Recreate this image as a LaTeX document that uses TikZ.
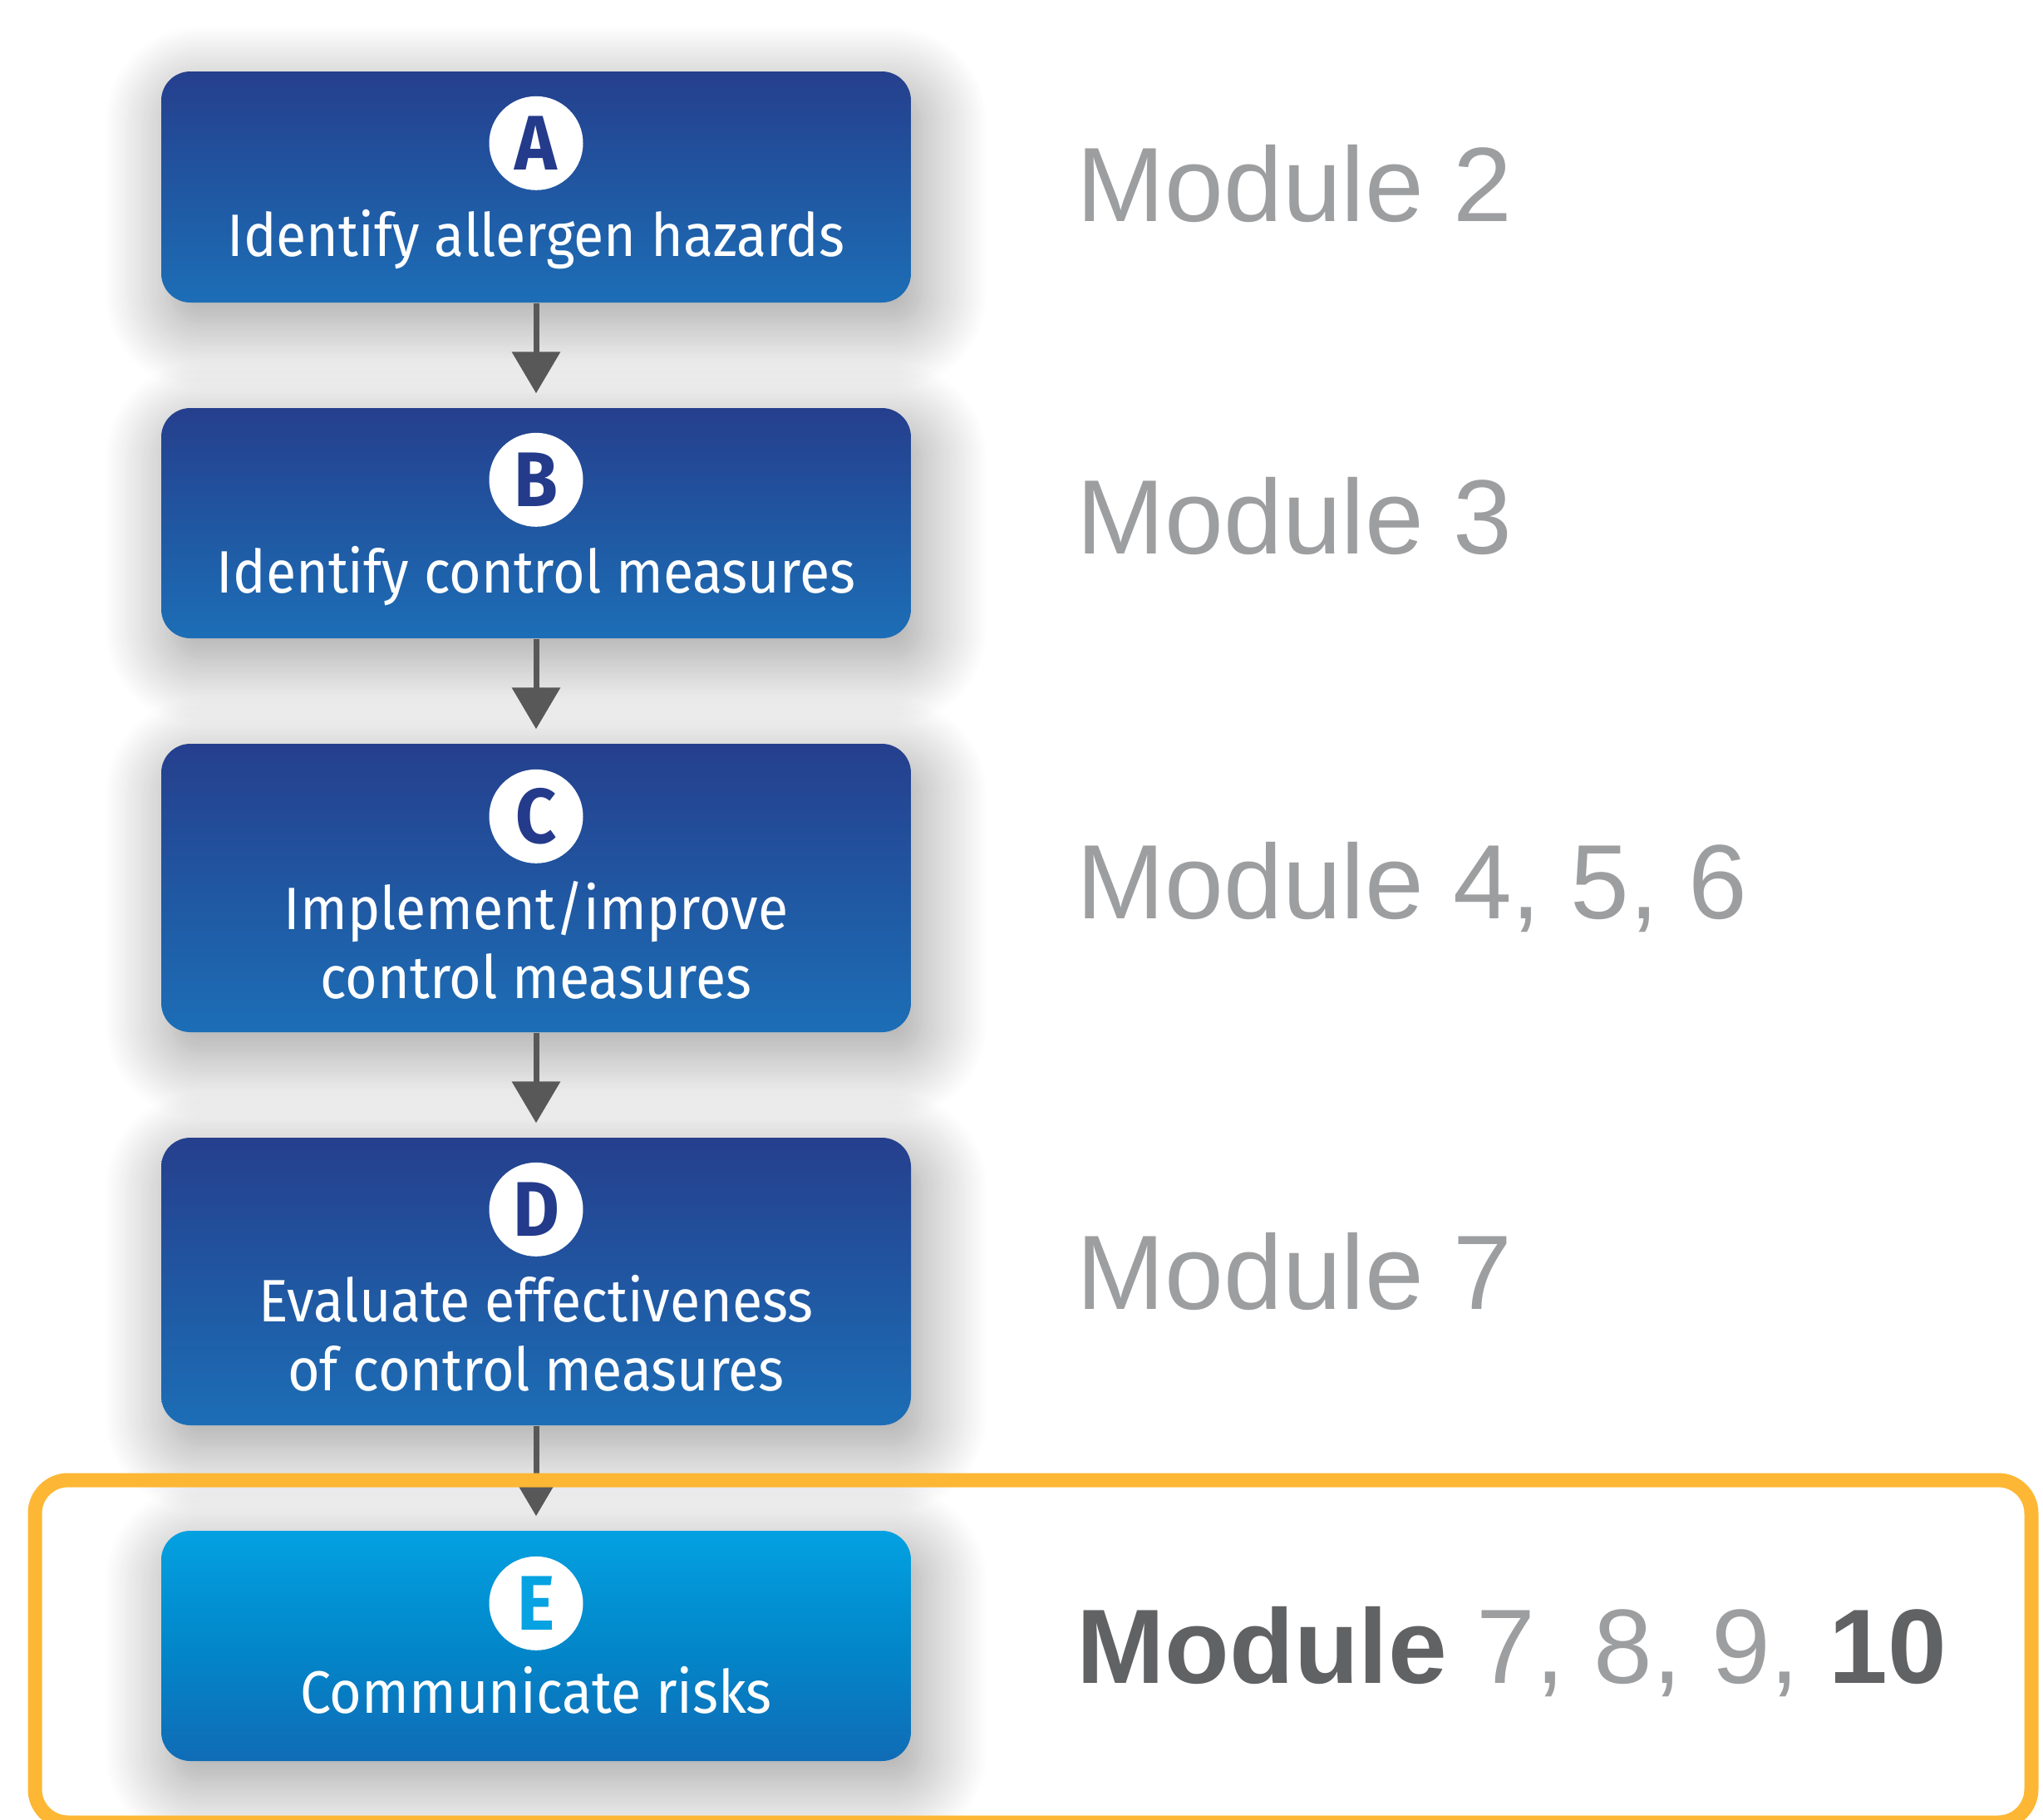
\documentclass[tikz,border=0pt]{standalone}
\usepackage{fontspec}
\usepackage{tikz}
\usetikzlibrary{positioning,arrows.meta,calc,shadows.blur}
\newfontfamily\boxfont[FakeStretch=0.92]{Fira Sans}
\newfontfamily\modfont{Liberation Sans}
\definecolor{navytop}{RGB}{37,63,141}
\definecolor{bluebot}{RGB}{28,110,182}
\definecolor{cyantop}{RGB}{3,161,225}
\definecolor{cyanmid}{RGB}{2,135,202}
\definecolor{cyanbot}{RGB}{16,108,182}
\definecolor{badgenavy}{RGB}{36,58,139}
\definecolor{badgecyan}{RGB}{6,162,225}
\definecolor{flowgray}{RGB}{88,88,88}
\definecolor{modgray}{RGB}{157,158,160}
\definecolor{moddark}{RGB}{97,98,100}
\definecolor{framegold}{RGB}{253,183,52}

\begin{document}
\begin{tikzpicture}[
  stepbox/.style={rectangle, rounded corners=0.35cm, minimum width=9.02cm,
    top color=navytop, bottom color=bluebot,
    blur shadow={shadow xshift=0.12cm, shadow yshift=-0.25cm, shadow blur radius=0.8cm,
      shadow blur steps=30, shadow opacity=40}},
  badge/.style={circle, fill=white, minimum size=1.13cm, inner sep=0pt, text=badgenavy,
    font=\boxfont\fontsize{26.5}{28}\selectfont\bfseries},
  steptext/.style={anchor=base, text=white, align=center, inner sep=0pt,
    font=\boxfont\fontsize{20.5}{23.6}\selectfont},
  modtext/.style={anchor=base west, inner sep=0pt, text=modgray,
    font=\modfont\fontsize{36.2}{40}\selectfont},
  flow/.style={draw=flowgray, line width=0.07cm, -{Triangle[length=0.5cm,width=0.57cm]}, shorten >=0.17cm}
]
  \useasboundingbox (0,0) rectangle (24.58,-21.90);

  % the five steps
  \node[stepbox, minimum height=2.78cm] (A) at (6.45,-2.25) {};
  \node[stepbox, minimum height=2.77cm] (B) at (6.45,-6.295) {};
  \node[stepbox, minimum height=3.47cm] (C) at (6.45,-10.685) {};
  \node[stepbox, minimum height=3.46cm] (D) at (6.45,-15.42) {};
  \node[stepbox, minimum height=2.77cm, top color=cyantop, bottom color=cyanbot, middle color=cyanmid] (E) at (6.45,-19.805) {};

  \node[badge] (bA) at ([yshift=-0.87cm]A.north) {A};
  \node[badge] (bB) at ([yshift=-0.87cm]B.north) {B};
  \node[badge] (bC) at ([yshift=-0.88cm]C.north) {C};
  \node[badge] (bD) at ([yshift=-0.87cm]D.north) {D};
  \node[badge, text=badgecyan] (bE) at ([yshift=-0.88cm]E.north) {E};

  \node[steptext] (tA) at ([yshift=-2.23cm]A.north) {Identify allergen hazards};
  \node[steptext] (tB) at ([yshift=-2.23cm]B.north) {Identify control measures};
  \node[steptext] (tC) at ([yshift=-3.07cm]C.north) {Implement/improve\\control measures};
  \node[steptext] (tD) at ([yshift=-3.05cm]D.north) {Evaluate effectiveness\\of control measures};
  \node[steptext] (tE) at ([yshift=-2.20cm]E.north) {Communicate risks};

  \draw[flow] (A) -- (B);
  \draw[flow] (B) -- (C);
  \draw[flow] (C) -- (D);
  \draw[flow] (D) -- (E);

  % module numbers
  \node[modtext] (mA) at (12.95,-2.66) {Module 2};
  \node[modtext] (mB) at (12.95,-6.66) {Module 3};
  \node[modtext] (mC) at (12.95,-11.05) {Module 4, 5, 6};
  \node[modtext] (mD) at (12.95,-15.75) {Module 7};
  \node[modtext] (mE) at (12.95,-20.25) {\textcolor{moddark}{\bfseries Module} 7, 8, 9, \textcolor{moddark}{\bfseries 10}};

  % highlight round the last step
  \draw[framegold, line width=0.17cm, rounded corners=0.4cm] (0.42,-17.81) rectangle (24.44,-21.93);
\end{tikzpicture}
\end{document}
